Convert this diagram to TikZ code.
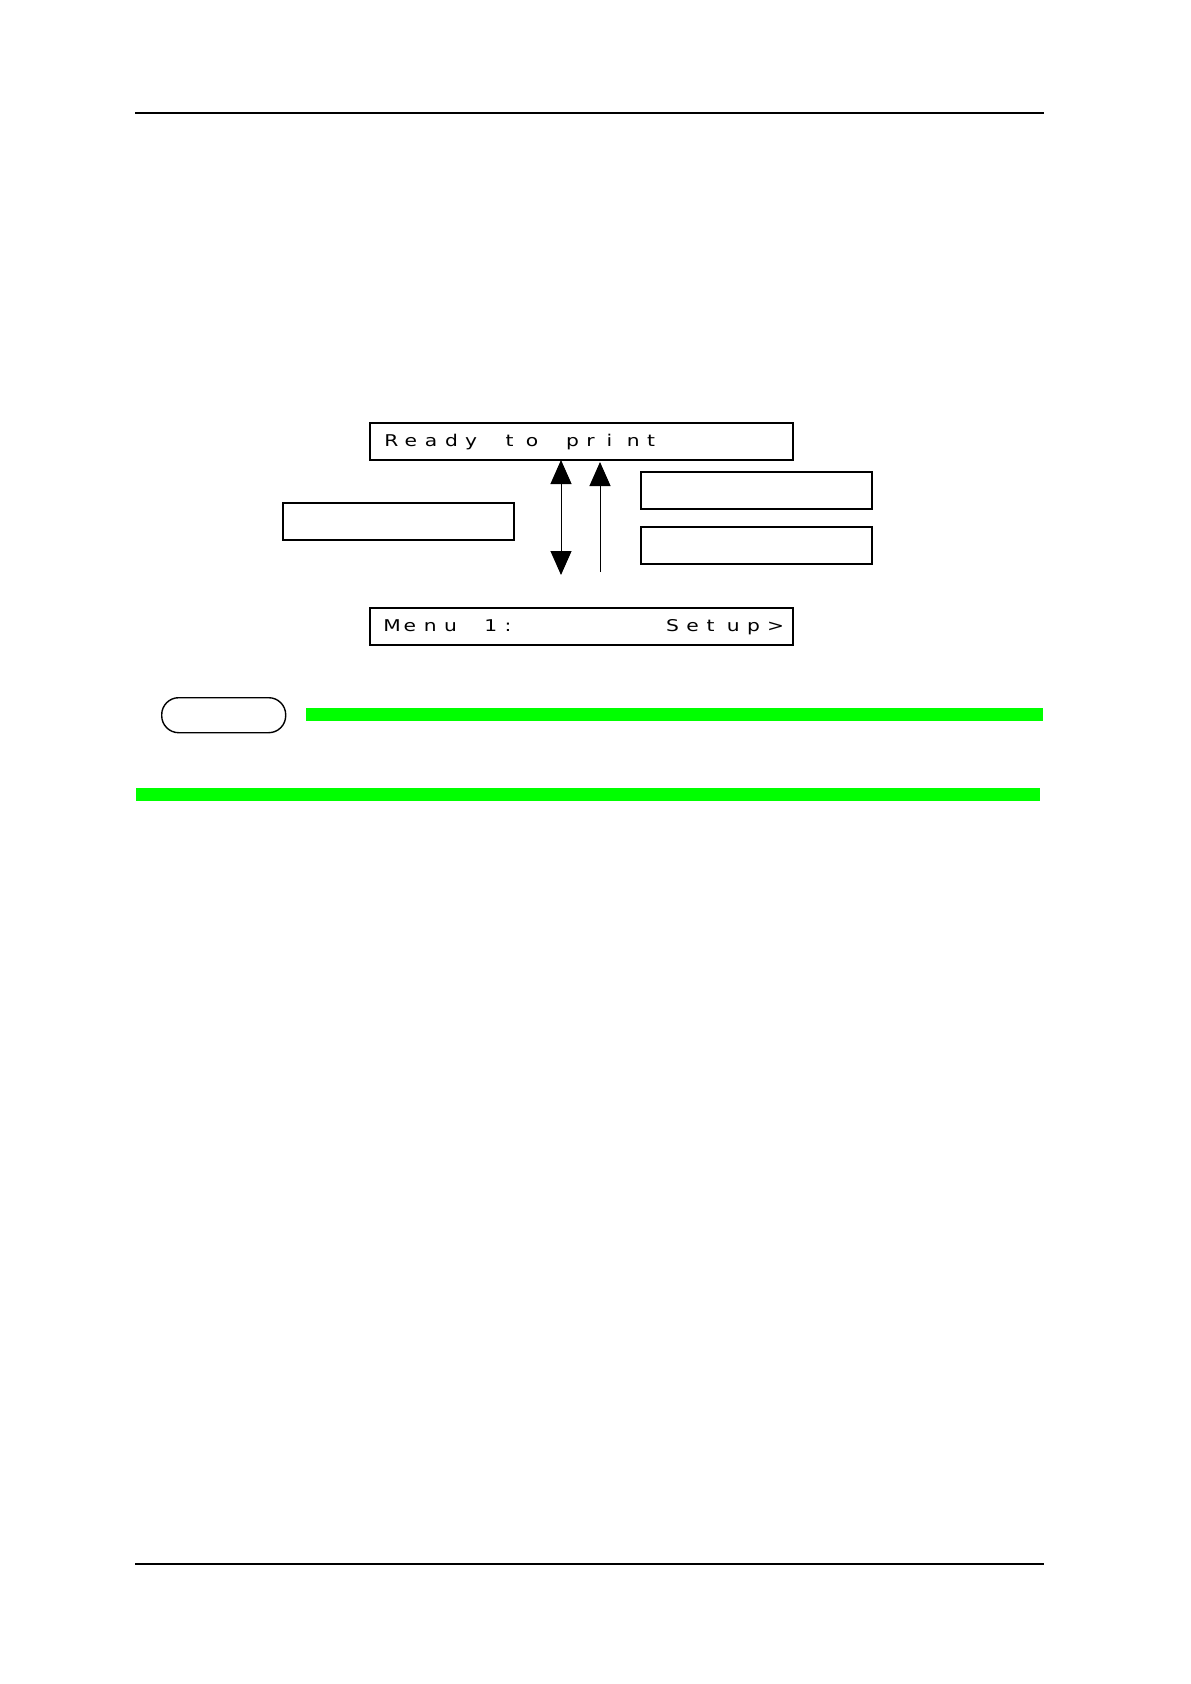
\documentclass[tikz,border=0pt]{standalone}
\usepackage{graphicx}
\usepackage{fontspec}
\setmainfont{DejaVu Sans}
\usetikzlibrary{arrows.meta}
\definecolor{barg}{RGB}{0,255,0}
\newlength{\lcdpitch}
\setlength{\lcdpitch}{10.1pt}
\newcommand{\lc}[1]{\makebox[\lcdpitch][l]{\scalebox{1.25}[1]{#1}}}
\tikzset{
  lcdbox/.style={draw, line width=1pt, inner sep=0pt, anchor=north west},
  blankbox/.style={draw, line width=1pt, inner sep=0pt, anchor=north west, minimum width=115.5pt, minimum height=18.5pt},
  rule/.style={line width=0.7pt},
  greenbar/.style={fill=barg, draw=none},
  lcdtext/.style={font=\fontsize{8.1}{9}\selectfont, anchor=west, inner sep=0pt},
  conn/.style={line width=0.5pt},
  bighead/.style={-{Triangle[length=12pt,width=10.5pt]}}
}
\begin{document}
\begin{tikzpicture}[x=0.5pt,y=-0.5pt]
\useasboundingbox (0,0) rectangle (1190,1684);
% header / footer rules
\coordinate (tl) at (135,113); \coordinate (tr) at (1044,113);
\coordinate (bl) at (135,1564); \coordinate (br) at (1044,1564);
\draw[rule] (tl) -- (tr);
\draw[rule] (bl) -- (br);
% LCD boxes
\node[lcdbox, minimum width=211.5pt, minimum height=18.5pt] (ready) at (369,422) {};
\node[lcdtext] (readyt) at (384,442) {\lc R\lc e\lc a\lc d\lc y\lc{}\lc t\lc o\lc{}\lc p\lc r\lc i\lc n\lc t};
\node[lcdbox, minimum width=211.5pt, minimum height=18.5pt] (menu) at (369,607) {};
\node[lcdtext] (menut) at (383,627) {\lc M\lc e\lc n\lc u\lc{}\lc 1\lc :\lc{}\lc{}\lc{}\lc{}\lc{}\lc{}\lc{}\lc S\lc e\lc t\lc u\lc p\lc{>}};
% blank boxes
\node[blankbox] (lbox) at (282,502) {};
\node[blankbox] (rbox1) at (640,471) {};
\node[blankbox] (rbox2) at (640,526) {};
% arrows
\coordinate (a1t) at (561,460); \coordinate (a1b) at (561,575);
\coordinate (a2t) at (600,462); \coordinate (a2b) at (600,572);
\draw[conn, {Triangle[length=12pt,width=10.5pt]}-{Triangle[length=12pt,width=10.5pt]}] (a1b) -- (a1t);
\draw[conn, bighead] (a2b) -- (a2t);
% note tag and green bars
\node[draw, line width=0.7pt, rounded corners=8.5pt, minimum width=62pt, minimum height=17.5pt, inner sep=0pt, anchor=north west] (note) at (161,697) {};
\fill[greenbar] (306,708) rectangle (1043,721);
\fill[greenbar] (136,788) rectangle (1040,801);
\end{tikzpicture}
\end{document}
